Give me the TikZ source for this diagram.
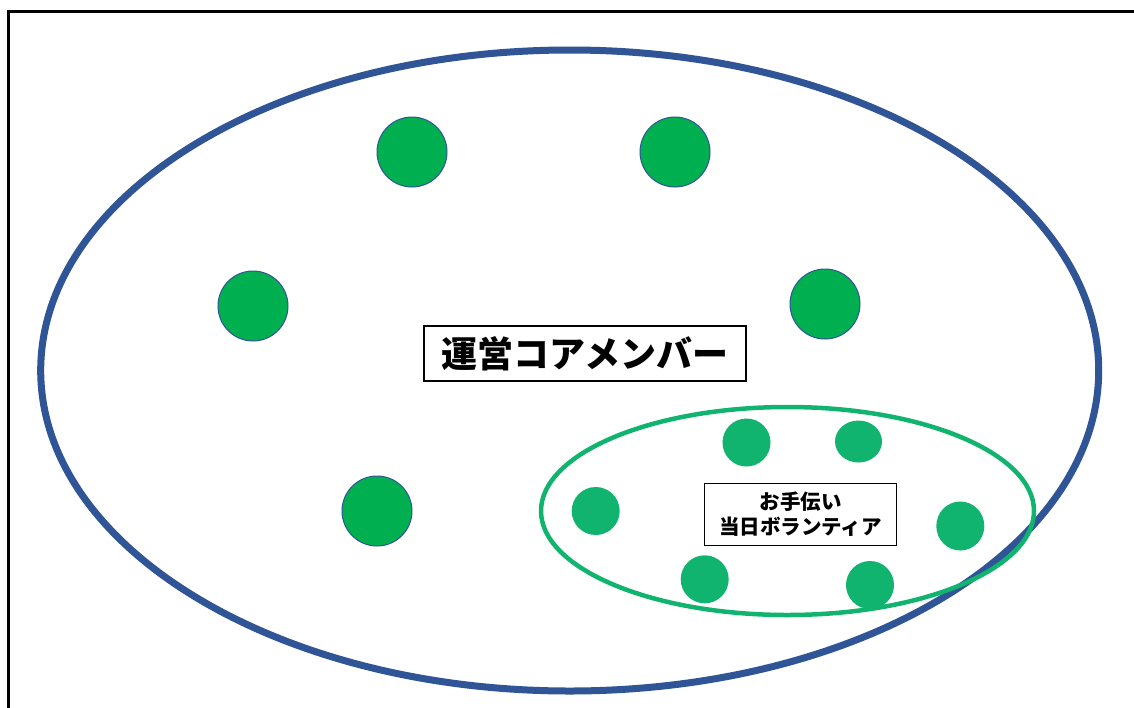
\documentclass[tikz,border=0pt]{standalone}
\usepackage{fontspec}
\newfontfamily\jp{Noto Sans CJK JP}
\usetikzlibrary{shapes.geometric}
\definecolor{coreblue}{RGB}{47,85,151}
\definecolor{coregreen}{RGB}{0,176,80}
\definecolor{helpgreen}{RGB}{16,180,110}
\tikzset{
  corecirc/.style={circle, fill=coregreen, draw=coreblue, line width=1pt, minimum size=70pt, inner sep=0pt},
  helpcirc/.style={ellipse, fill=helpgreen, draw=none, inner sep=0pt},
  labelbox/.style={draw=black, line width=1.3pt, fill=white, inner sep=0pt, align=center, text=black},
}
\begin{document}
\begin{tikzpicture}[x=1pt, y=-1pt]
\useasboundingbox (0,0) rectangle (1134,707);
\clip (0,0) rectangle (1134,707);
\fill[white] (0,0) rectangle (1134,707);
% frame
\coordinate (fb) at (8.5,720);
\coordinate (fc) at (8.5,11.5);
\coordinate (fr) at (1145,11.5);
\draw[line width=3pt, black] (fb) -- (fc) -- (fr);
% big ellipse
\node[ellipse, draw=coreblue, line width=7pt, minimum width=1058pt, minimum height=641pt, inner sep=0pt] (core) at (569.7,370.5) {};
% core circles
\node[corecirc] (c1) at (412,152) {};
\node[corecirc] (c2) at (675,152) {};
\node[corecirc] (c3) at (253,306) {};
\node[corecirc] (c4) at (825,304) {};
\node[corecirc] (c5) at (377,511) {};
% helper ellipse
\node[ellipse, draw=helpgreen, line width=4.5pt, minimum width=493pt, minimum height=208pt, inner sep=0pt] (help) at (787.5,511) {};
% helper circles
\node[helpcirc, minimum width=48pt, minimum height=48pt] (h1) at (746.5,442.5) {};
\node[helpcirc, minimum width=47pt, minimum height=42pt] (h2) at (858.5,441.5) {};
\node[helpcirc, minimum width=48pt, minimum height=48pt] (h3) at (595.7,511) {};
\node[helpcirc, minimum width=48pt, minimum height=49pt] (h4) at (960.3,526) {};
\node[helpcirc, minimum width=48pt, minimum height=48pt] (h5) at (704.7,579.3) {};
\node[helpcirc, minimum width=48pt, minimum height=48pt] (h6) at (870,585) {};
% labels
\node[labelbox, minimum width=322pt, minimum height=55pt, font=\jp\bfseries\fontsize{36}{40}\selectfont] (lcore) at (585,353.5) {運営コアメンバー};
\node[labelbox, minimum width=192pt, minimum height=62pt, font=\jp\bfseries\fontsize{20.5}{25}\selectfont] (lhelp) at (800.5,514.5) {お手伝い\\当日ボランティア};
\end{tikzpicture}
\end{document}
